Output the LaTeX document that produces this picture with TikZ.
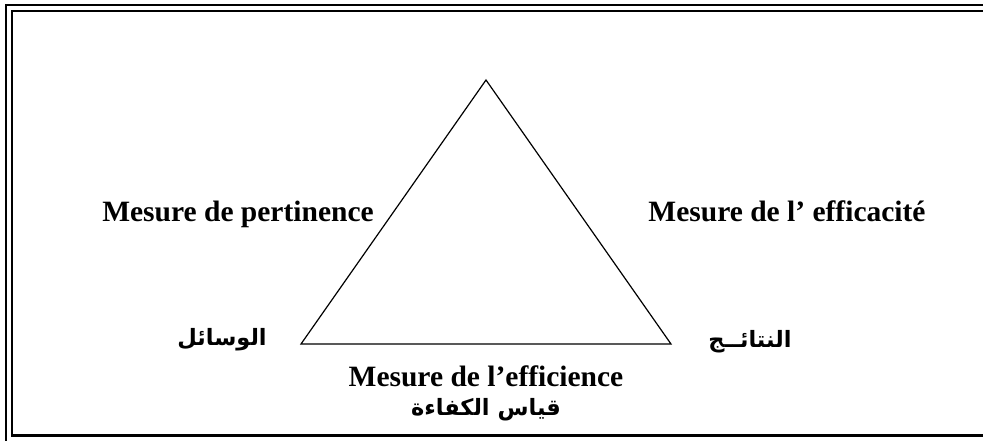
\documentclass[tikz,border=0pt]{standalone}
\usepackage{fontspec}
\setmainfont{Liberation Serif}
\newfontfamily\arabicfont[Script=Arabic]{DejaVu Sans}
\TeXXeTstate=1
\usetikzlibrary{positioning}

\begin{document}
\begin{tikzpicture}[
x=1pt,
y=-1pt,
lbl/.style={font=\fontsize{29.5}{33}\selectfont\bfseries, inner sep=0pt},
arlbl/.style={font=\arabicfont\fontsize{22.5}{26}\selectfont\bfseries, inner sep=0pt},
side/.style={draw, line width=1.2pt, line join=miter}
]

\useasboundingbox (0,0) rectangle (983,441);
\clip (0,0) rectangle (983,441);

\draw[line width=2pt] (6,5) rectangle (1100,520);
\draw[line width=2.5pt] (12,11) rectangle (1080,435.5);

\coordinate (apex) at (486,80);
\coordinate (moyens) at (301,344);
\coordinate (resultats) at (671,344);

\draw[side] (apex) -- (moyens) -- (resultats) -- cycle;

\node[lbl, anchor=base] (pert) at (238,222) {Mesure de pertinence};
\node[lbl, anchor=base] (effic) at (787,222) {Mesure de l’ efficacité};
\node[lbl, anchor=base] (effi) at (486,386) {Mesure de l’efficience};

\node[arlbl] (wasail) at (222,340) {\beginR الوسائل\endR};
\node[arlbl] (nataij) at (750,342) {\beginR النتائــج\endR};
\node[arlbl, below=12pt of effi] (kafaa) {\beginR قياس الكفاءة\endR};

\end{tikzpicture}
\end{document}
